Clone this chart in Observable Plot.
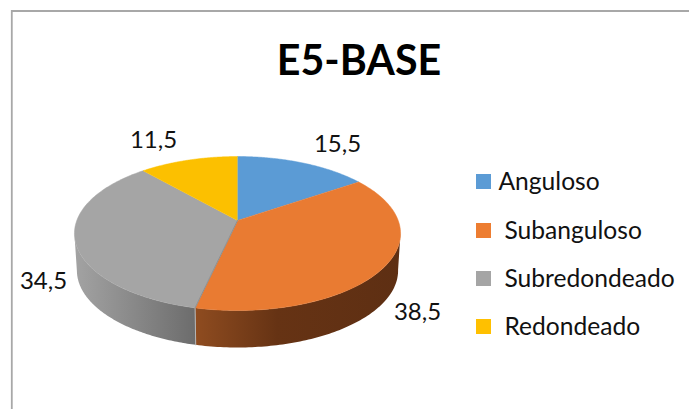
<!DOCTYPE html>
<html><head><meta charset="utf-8">
<script src="https://cdn.jsdelivr.net/npm/d3@7"></script>
<script src="https://cdn.jsdelivr.net/npm/@observablehq/plot@0.6"></script>
<style>html,body{margin:0;padding:0;background:#fff}svg{display:block}</style>
</head><body><div id="chart"></div>
<script>
const categories = ["Anguloso", "Subanguloso", "Subredondeado", "Redondeado"];
const values = [15.5, 38.5, 34.5, 11.5];
const valueLabels = ["15,5", "38,5", "34,5", "11,5"];
const colors = ["#5b9bd5", "#ed7d31", "#a5a5a5", "#ffc000"];
const topColors = ["#5b9bd5", "#e97b32", "#a5a5a5", "#fcc000"];
const title = "E5-BASE";

// perspective view of the pie disc
const cx = 237, cy = 220, bx = 160.7, ay = 74.8, k = 0.169, depth = 37, shrink = 0.985, warp = 0.03;
function project(turn, lower = false) {
  let a = turn * 2 * Math.PI;
  a -= warp * ((1 - Math.cos(a)) / 2) ** 2;
  const u = Math.sin(a), v = Math.cos(a), d = 1 + k * v;
  const x = bx * u / d, y = -ay * v / d;
  return lower ? {x: cx + x * shrink, y: cy + y + depth} : {x: cx + x, y: cy + y};
}
const total = d3.sum(values);
let acc = 0;
const slices = values.map((v, i) => {
  const start = acc / total; acc += v;
  return {i, name: categories[i], start, end: acc / total};
});
const arc = (start, end) => d3.range(0, 101).map(t => start + (end - start) * t / 100);
const topPts = slices.flatMap(s => [
  {i: s.i, x: cx, y: cy},
  ...arc(s.start, s.end).map(t => ({i: s.i, ...project(t)}))
]);
// only the front of the wall is visible, between the rim's left and right extremes
const visFrom = Math.acos(-k) / (2 * Math.PI), visTo = 1 - visFrom;
const wallPts = slices.flatMap(s => {
  const a = Math.max(s.start, visFrom), b = Math.min(s.end, visTo);
  if (a >= b) return [];
  return [
    ...arc(a, b).map(t => ({i: s.i, ...project(t)})),
    ...arc(a, b).reverse().map(t => ({i: s.i, ...project(t, true)}))
  ];
});
const seamTurn = slices[1].end;
const wallSeam = [project(seamTurn), project(seamTurn, true)];
const faceSeam = [{x: cx, y: cy}, project(seamTurn)];

const legendY = [181.5, 230.5, 278.5, 326.5];
const legendTextX = [498, 504, 504, 504];
const labelPos = [[337, 144], [417, 312], [43, 281], [153, 140]];

const legend = categories.map((name, i) => ({name, i, y: legendY[i], tx: legendTextX[i]}));
const labels = valueLabels.map((text, i) => ({text, x: labelPos[i][0], y: labelPos[i][1]}));

const defs = () => {
  const svg = d3.create("svg:g");
  const d = svg.append("defs");
  const mk = (id, stops) => {
    const g = d.append("linearGradient").attr("id", id).attr("x1", 0).attr("x2", 1).attr("y1", 0).attr("y2", 0);
    stops.forEach(([o, c]) => g.append("stop").attr("offset", o).attr("stop-color", c));
  };
  mk("wall1", [[0, "#8f4c20"], [0.4, "#663314"], [1, "#5e2f13"]]);
  mk("wall2", [[0, "#a3a3a3"], [0.5, "#888888"], [1, "#6c6c6c"]]);
  return svg.node();
};

const font = "Lato, Carlito, sans-serif";
const plot = Plot.plot({
  width: 689, height: 409, margin: 0,
  x: {domain: [0, 689], range: [0, 689], axis: null},
  y: {domain: [0, 409], range: [0, 409], axis: null},
  style: {background: "#fff", fontFamily: font},
  marks: [
    defs,
    Plot.ruleX([11.3], {y1: 10, y2: 409, stroke: "#a8a8a8", strokeWidth: 1.8}),
    Plot.ruleY([10.5], {x1: 11, x2: 689, stroke: "#a8a8a8", strokeWidth: 1.8}),
    Plot.line(wallPts.filter(d => d.i === 1), {x: "x", y: "y", fill: "url(#wall1)", stroke: "none", curve: "linear"}),
    Plot.line(wallPts.filter(d => d.i === 2), {x: "x", y: "y", fill: "url(#wall2)", stroke: "none", curve: "linear"}),
    Plot.line(wallSeam, {x: "x", y: "y", stroke: "#b5b5b5", strokeWidth: 1}),
    ...slices.map(s => Plot.line(topPts.filter(d => d.i === s.i), {x: "x", y: "y", fill: topColors[s.i], stroke: topColors[s.i], strokeWidth: 0.5, curve: "linear"})),
    Plot.line(faceSeam, {x: "x", y: "y", stroke: "#8f8f8f", strokeWidth: 1}),
    Plot.text([title], {x: () => 358.5, y: () => 61.5, text: d => d, fontSize: 41.2, fontWeight: 700, fill: "#000", textAnchor: "middle"}),
    Plot.text(labels, {x: "x", y: "y", text: "text", fontSize: 24, fill: "#111"}),
    Plot.dot(legend, {x: () => 483, y: d => d.y - 0.5, symbol: "square", r: 8.47, fill: d => colors[d.i], stroke: "none"}),
    Plot.text(legend, {x: "tx", y: "y", text: "name", fontSize: 24.6, fill: "#111", textAnchor: "start"})
  ]
});
document.getElementById("chart").append(plot);
</script></body></html>
